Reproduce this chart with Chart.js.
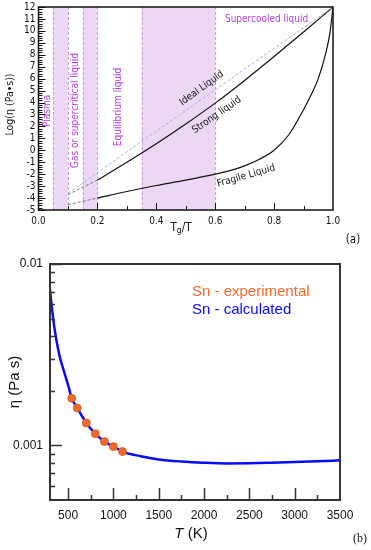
<!DOCTYPE html>
<html>
<head>
<meta charset="utf-8">
<script src="https://cdn.jsdelivr.net/npm/chart.js@4.4.0/dist/chart.umd.min.js"></script>
<style>
body { margin: 0; background: #fff; }
#wrap { position: relative; width: 371px; height: 550px; }
canvas { position: absolute; left: 0; }
#topChart { top: 0; }
#bottomChart { top: 250px; }
</style>
</head>
<body>
<div id="wrap">
  <canvas id="topChart" width="371" height="250"></canvas>
  <canvas id="bottomChart" width="371" height="300"></canvas>
</div>
<script>
// ---- panel (a) data ----
let bandStart = [0.05, 0.15, 0.35];
let bandEnd = [0.1, 0.2, 0.6];
let idealX = [0.1, 1.0];
let idealY = [-3.6, 12];
let strongDashX = [0.1, 0.2];
let strongDashY = [-3.7, -2.5];
let strongX = [0.2, 0.3, 0.4, 0.5, 0.6, 0.7, 0.8, 0.9, 1.0];
let strongY = [-2.5, -1.0, 0.55, 2.2, 3.95, 5.85, 7.85, 9.9, 12];
let fragDashX = [0.1, 0.2];
let fragDashY = [-4.55, -4.0];
let fragX = [0.2, 0.3, 0.4, 0.5, 0.6, 0.65, 0.7, 0.75, 0.8, 0.85, 0.9, 0.925, 0.95, 0.975, 0.99, 1.0];
let fragY = [-4.0, -3.45, -2.95, -2.5, -2.0, -1.7, -1.3, -0.75, 0.0, 1.3, 3.4, 4.6, 6.0, 8.1, 9.9, 12];

// ---- panel (b) data ----
let calcT = [300, 320, 350, 400, 450, 500, 540, 600, 700, 800, 900, 1000, 1100, 1300, 1500, 1750, 2000, 2250, 2500, 2750, 3000, 3250, 3500];
let calcEta = [0.0072, 0.0058, 0.0044, 0.0032, 0.0026, 0.00215, 0.00182, 0.00161, 0.00133, 0.00116, 0.00105, 0.000985, 0.000925, 0.000872, 0.000837, 0.000815, 0.000802, 0.000795, 0.000797, 0.000803, 0.00081, 0.000818, 0.000827];
let expT = [540, 600, 700, 800, 900, 1000, 1100];
let expEta = [0.00182, 0.00161, 0.00133, 0.00116, 0.00105, 0.000985, 0.000925];
let xTicksB = [500, 1000, 1500, 2000, 2500, 3000, 3500];
let yTicksB = [0.001, 0.01];

const fontA = '"DejaVu Sans Condensed", "DejaVu Sans", sans-serif';
const fontB = '"Liberation Sans", Arial, sans-serif';
const purple = '#b23ede';

function pts(xs, ys) {
    return xs.map((v, i) => ({ x: v, y: ys[i] }));
}

// draw small text turned by an angle
function rotText(ctx, txt, px, py, ang, font, color, align) {
    ctx.save();
    ctx.translate(px, py);
    ctx.rotate(ang * Math.PI / 180);
    ctx.font = font;
    ctx.fillStyle = color;
    ctx.textAlign = align || 'center';
    ctx.textBaseline = 'middle';
    ctx.fillText(txt, 0, 0);
    ctx.restore();
}

// inward tick marks along bottom and left edges
function ticksX(ctx, sc, a, vals, len) {
    vals.forEach(v => {
        const p = Math.round(sc.getPixelForValue(v)) + 0.5;
        ctx.beginPath(); ctx.moveTo(p, a.bottom); ctx.lineTo(p, a.bottom - len); ctx.stroke();
    });
}
function ticksY(ctx, sc, a, vals, len) {
    vals.forEach(v => {
        const p = Math.round(sc.getPixelForValue(v)) + 0.5;
        ctx.beginPath(); ctx.moveTo(a.left, p); ctx.lineTo(a.left + len, p); ctx.stroke();
    });
}

// ================= panel (a) =================
const topDecor = {
    id: 'topDecor',
    beforeDatasetsDraw(chart) {
        const { ctx, chartArea: a, scales: { x } } = chart;
        ctx.save();
        for (let i = 0; i < bandStart.length; i++) {
            const x0 = x.getPixelForValue(bandStart[i]);
            const x1 = x.getPixelForValue(bandEnd[i]);
            ctx.fillStyle = '#ecd7f4';
            ctx.fillRect(x0, a.top, x1 - x0, a.bottom - a.top);
            ctx.strokeStyle = '#c89ce2';
            ctx.lineWidth = 1;
            ctx.setLineDash([3, 2]);
            [x0, x1].forEach(p => {
                ctx.beginPath(); ctx.moveTo(Math.round(p) + 0.5, a.top); ctx.lineTo(Math.round(p) + 0.5, a.bottom); ctx.stroke();
            });
        }
        ctx.restore();
    },
    afterDraw(chart) {
        const { ctx, chartArea: a, scales: { x, y } } = chart;
        ctx.save();
        // frame
        ctx.strokeStyle = '#111';
        ctx.lineWidth = 1.5;
        ctx.strokeRect(a.left, a.top, a.right - a.left, a.bottom - a.top);
        // ticks
        ctx.lineWidth = 1;
        let majY = [], minY = [], majX = [], minX = [];
        for (let v = -5; v <= 12; v++) majY.push(v);
        for (let v = -5; v < 12; v++) for (let k = 1; k < 5; k++) minY.push(v + k * 0.2);
        for (let k = 1; k < 5; k++) majX.push(k * 0.2);
        for (let k = 0; k < 5; k++) minX.push(0.1 + k * 0.2);
        ticksY(ctx, y, a, majY, 7);
        ticksY(ctx, y, a, minY, 4);
        ticksX(ctx, x, a, majX, 7);
        ticksX(ctx, x, a, minX, 4);

        // region labels
        const f9 = '10px ' + fontA;
        rotText(ctx, 'Plasma', x.getPixelForValue(0.029), y.getPixelForValue(3.3), -90, f9, purple);
        rotText(ctx, 'Gas or supercritical liquid', x.getPixelForValue(0.127), y.getPixelForValue(3.33), -90, f9, purple);
        rotText(ctx, 'Equilibrium liquid', x.getPixelForValue(0.273), y.getPixelForValue(3.63), -90, f9, purple);
        rotText(ctx, 'Supercooled liquid', x.getPixelForValue(0.633), y.getPixelForValue(10.97), 0, f9, purple, 'left');

        // curve labels
        rotText(ctx, 'Ideal Liquid', x.getPixelForValue(0.554), y.getPixelForValue(5.19), -36, f9, '#111');
        rotText(ctx, 'Strong liquid', x.getPixelForValue(0.605), y.getPixelForValue(2.96), -35, f9, '#111');
        rotText(ctx, 'Fragile Liquid', x.getPixelForValue(0.705), y.getPixelForValue(-2.15), -16, f9, '#111');

        // axis titles
        rotText(ctx, 'Log(η (Pa•s))', 10, (a.top + a.bottom) / 2 - 4, -90, '10.5px ' + fontA, '#111');
        ctx.font = '11.5px ' + fontA;
        ctx.fillStyle = '#111';
        ctx.textBaseline = 'middle';
        ctx.textAlign = 'left';
        const w1 = ctx.measureText('T').width;
        ctx.font = '8.5px ' + fontA;
        const w2 = ctx.measureText('g').width;
        ctx.font = '11.5px ' + fontA;
        const w3 = ctx.measureText('/T').width;
        let sx = 181 - (w1 + w2 + w3) / 2;
        ctx.fillText('T', sx, 228);
        ctx.font = '8.5px ' + fontA;
        ctx.fillText('g', sx + w1, 231);
        ctx.font = '11.5px ' + fontA;
        ctx.fillText('/T', sx + w1 + w2, 228);
        ctx.textAlign = 'center';
        ctx.fillText('(a)', 353, 240);
        ctx.restore();
    }
};

let topChart = new Chart(document.getElementById('topChart'), {
    type: 'line',
    data: {
        datasets: [
            { label: 'Ideal Liquid', data: pts(idealX, idealY), borderColor: '#aaaaf0', borderWidth: 1, borderDash: [3, 2], pointRadius: 0 },
            { label: 'strong extrapolated', data: pts(strongDashX, strongDashY), borderColor: '#777', borderWidth: 1, borderDash: [3, 2], pointRadius: 0 },
            { label: 'Strong liquid', data: pts(strongX, strongY), borderColor: '#111', borderWidth: 1.2, pointRadius: 0, cubicInterpolationMode: 'monotone' },
            { label: 'fragile extrapolated', data: pts(fragDashX, fragDashY), borderColor: '#777', borderWidth: 1, borderDash: [3, 2], pointRadius: 0 },
            { label: 'Fragile Liquid', data: pts(fragX, fragY), borderColor: '#111', borderWidth: 1.2, pointRadius: 0, cubicInterpolationMode: 'monotone' }
        ]
    },
    options: {
        responsive: false,
        animation: false,
        layout: { padding: { left: 0, right: 38, top: 7, bottom: 0 } },
        plugins: { legend: { display: false }, tooltip: { enabled: false } },
        scales: {
            x: {
                type: 'linear', min: 0, max: 1,
                grid: { display: false, drawTicks: false }, border: { display: false },
                ticks: { stepSize: 0.2, padding: 5, color: '#111', maxRotation: 0, autoSkip: false,
                    font: { family: fontA, size: 10 }, callback: v => v.toFixed(1) },
                afterFit: s => { s.height = 40; s.paddingLeft = 0; s.paddingRight = 0; }
            },
            y: {
                type: 'linear', min: -5, max: 12,
                grid: { display: false, drawTicks: false }, border: { display: false },
                ticks: { stepSize: 1, padding: 3, color: '#111', autoSkip: false,
                    font: { family: fontA, size: 10 } },
                afterFit: s => { s.width = 38.5; s.paddingTop = 0; s.paddingBottom = 0; }
            }
        }
    },
    plugins: [topDecor]
});

// ================= panel (b) =================
const bottomDecor = {
    id: 'bottomDecor',
    afterDraw(chart) {
        const { ctx, chartArea: a, scales: { x, y } } = chart;
        ctx.save();
        ctx.strokeStyle = '#333';
        ctx.lineWidth = 2;
        ctx.strokeRect(a.left, a.top, a.right - a.left, a.bottom - a.top);
        ctx.lineWidth = 1.5;
        let minX = [750, 1250, 1750, 2250, 2750, 3250];
        let minY = [];
        [0.0001, 0.001].forEach(d => { for (let k = 2; k <= 9; k++) if (d * k > 0.0005) minY.push(d * k); });
        ticksX(ctx, x, a, xTicksB.slice(0, -1), 12);
        ticksX(ctx, x, a, minX, 5);
        ticksY(ctx, y, a, yTicksB, 12);
        ticksY(ctx, y, a, minY, 5);

        // legend as coloured text
        const ds = chart.data.datasets;
        ctx.font = '15px ' + fontB;
        ctx.textAlign = 'left';
        ctx.textBaseline = 'middle';
        ctx.fillStyle = ds[0].backgroundColor;
        ctx.fillText(ds[0].label, 192, 42);
        ctx.fillStyle = ds[1].borderColor;
        ctx.fillText(ds[1].label, 192, 60);

        // axis titles
        rotText(ctx, 'η (Pa s)', 15, (a.top + a.bottom) / 2, -90, '15px ' + fontB, '#111');
        ctx.fillStyle = '#111';
        ctx.font = 'italic 15px ' + fontB;
        const wT = ctx.measureText('T').width;
        ctx.font = '15px ' + fontB;
        const wK = ctx.measureText(' (K)').width;
        const sx = 191 - (wT + wK) / 2;
        ctx.font = 'italic 15px ' + fontB;
        ctx.fillText('T', sx, 284);
        ctx.font = '15px ' + fontB;
        ctx.fillText(' (K)', sx + wT, 284);
        ctx.font = '12px "Liberation Serif", serif';
        ctx.textAlign = 'center';
        ctx.fillText('(b)', 360, 289);
        ctx.restore();
    }
};

let bottomChart = new Chart(document.getElementById('bottomChart'), {
    type: 'line',
    data: {
        datasets: [
            { label: 'Sn - experimental', data: pts(expT, expEta), showLine: false, pointRadius: 4,
              backgroundColor: '#f26a2b', borderColor: '#c85a30', pointBorderWidth: 0.8 },
            { label: 'Sn - calculated', data: pts(calcT, calcEta), borderColor: '#0a0af5', borderWidth: 2.5,
              pointRadius: 0, cubicInterpolationMode: 'monotone' }
        ]
    },
    options: {
        responsive: false,
        animation: false,
        layout: { padding: { left: 0, right: 31, top: 14, bottom: 0 } },
        plugins: { legend: { display: false }, tooltip: { enabled: false } },
        scales: {
            x: {
                type: 'linear', min: 300, max: 3500,
                grid: { display: false, drawTicks: false }, border: { display: false },
                afterBuildTicks: s => { s.ticks = xTicksB.map(v => ({ value: v })); },
                ticks: { padding: 8, color: '#111', maxRotation: 0, autoSkip: false,
                    font: { family: fontB, size: 12 }, callback: v => String(v) },
                afterFit: s => { s.height = 50; s.paddingLeft = 0; s.paddingRight = 0; }
            },
            y: {
                type: 'logarithmic', min: 0.0005, max: 0.01,
                grid: { display: false, drawTicks: false }, border: { display: false },
                afterBuildTicks: s => { s.ticks = yTicksB.map(v => ({ value: v })); },
                ticks: { padding: 7, color: '#111', autoSkip: false,
                    font: { family: fontB, size: 12 }, callback: v => String(v) },
                afterFit: s => { s.width = 50; s.paddingTop = 0; s.paddingBottom = 0; }
            }
        }
    },
    plugins: [bottomDecor]
});
</script>
</body>
</html>
